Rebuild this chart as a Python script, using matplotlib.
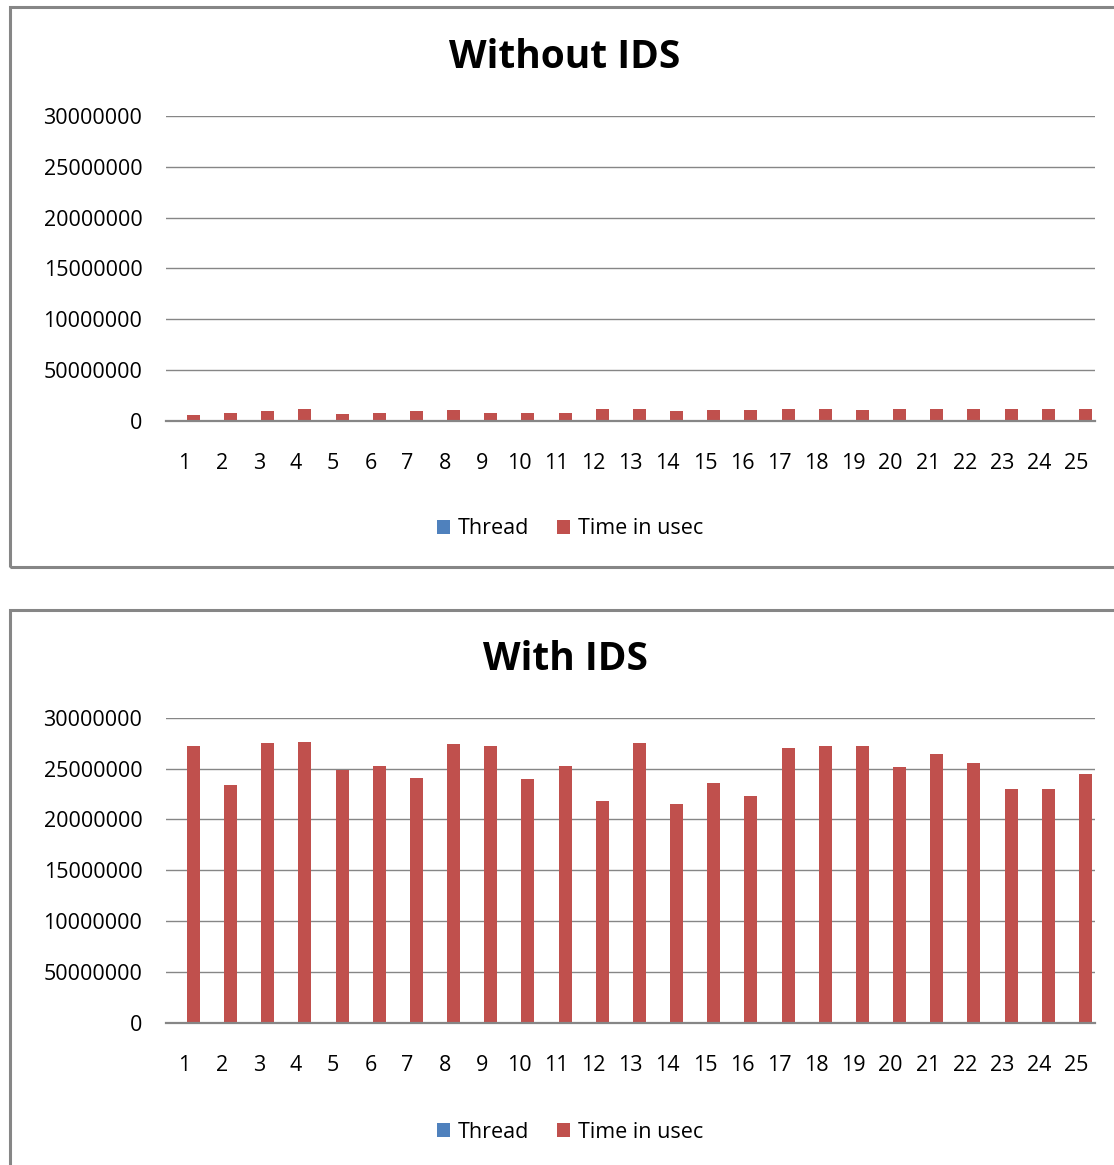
import matplotlib
matplotlib.use("Agg")
import matplotlib.pyplot as plt
from matplotlib.patches import Rectangle
import numpy as np

plt.rcParams["font.family"] = ["Open Sans", "DejaVu Sans"]

# Run index on the category axis
threads = list(range(1, 26))

# Elapsed time per run (microseconds)
time_without_ids = [560000, 760000, 950000, 1150000, 660000, 760000, 950000, 1050000,
                    760000, 760000, 760000, 1150000, 1150000, 950000, 1050000, 1050000,
                    1150000, 1150000, 1050000, 1150000, 1150000, 1150000, 1150000,
                    1150000, 1150000]
time_with_ids = [27260000, 23400000, 27560000, 27660000, 24900000, 25300000, 24100000,
                 27460000, 27200000, 24000000, 25300000, 21850000, 27560000, 21500000,
                 23600000, 22350000, 27070000, 27200000, 27260000, 25200000, 26400000,
                 25500000, 23000000, 23000000, 24500000]

y_ticks = [0, 5000000, 10000000, 15000000, 20000000, 25000000, 30000000]
y_tick_labels = ["0", "50000000", "10000000", "15000000", "20000000", "25000000", "30000000"]
series_names = ["Thread", "Time in usec"]
titles = ["Without IDS", "With IDS"]

BLUE = "#4F81BD"
RED = "#C0504D"
GRID = "#868686"

W, H = 1114, 1165
fig = plt.figure(figsize=(W / 100, H / 100), dpi=100)
fig.patch.set_facecolor("white")


def fx(px):
    return px / W


def fy(py):
    return 1 - py / H


def draw_chart(top_px, axis_top, axis_bottom, title, values):
    # outer chart frame
    fig.patches.append(Rectangle((fx(9.5), fy(top_px + 560)), fx(1200), fy(top_px) - fy(top_px + 560),
                                 transform=fig.transFigure, fill=False,
                                 edgecolor=GRID, linewidth=2.2, clip_on=False))
    ax = fig.add_axes([fx(166), fy(axis_bottom), fx(1095 - 166), fy(axis_top) - fy(axis_bottom)])
    x = np.array(threads)
    w = 0.35
    ax.bar(x - 0.11, threads, width=w, color=BLUE, label=series_names[0], align="center")
    ax.bar(x + 0.24, values, width=w, color=RED, label=series_names[1], align="center")
    ax.set_xlim(0.5, 25.5)
    ax.set_ylim(0, 30000000)
    ax.set_yticks(y_ticks)
    ax.set_yticklabels(y_tick_labels)
    ax.set_xticks(x)
    ax.set_xticklabels([str(t) for t in threads])
    ax.tick_params(axis="y", length=0, pad=17, labelsize=15.5)
    ax.tick_params(axis="x", length=0, pad=23, labelsize=15.5)
    ax.grid(axis="y", color=GRID, linewidth=1.0)
    ax.set_axisbelow(True)
    for s in ["top", "right", "left"]:
        ax.spines[s].set_visible(False)
    ax.spines["bottom"].set_color(GRID)
    ax.spines["bottom"].set_linewidth(1.6)
    fig.text(fx(565), fy(top_px + 50), title, ha="center", va="center",
             fontsize=28, fontweight="bold", color="black")
    ax.legend(loc="center", bbox_to_anchor=(fx(570), fy(top_px + 522)),
              bbox_transform=fig.transFigure, ncol=2, frameon=False,
              fontsize=15.5, handlelength=0.6, handleheight=0.6, handletextpad=0.35,
              columnspacing=1.3)
    return ax


draw_chart(7, 116, 420.7, titles[0], time_without_ids)
draw_chart(610, 717.7, 1023, titles[1], time_with_ids)

fig.savefig("out.png", dpi=100, facecolor="white")
